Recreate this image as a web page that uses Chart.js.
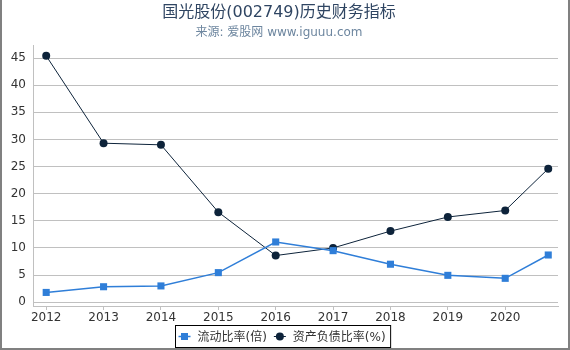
<!DOCTYPE html>
<html>
<head>
<meta charset="utf-8">
<script src="https://cdn.jsdelivr.net/npm/chart.js@4/dist/chart.umd.min.js"></script>
<style>
  body { margin: 0; background: #fff; }
  #wrap { position: relative; width: 570px; height: 350px; }
  #frame { position: absolute; inset: 0; box-sizing: border-box; border: 2px solid #808080; border-top: none; pointer-events: none; }
</style>
</head>
<body>
<div id="wrap">
  <canvas id="chart" width="570" height="350"></canvas>
  <div id="frame"></div>
</div>
<script>
const TITLE = "国光股份(002749)历史财务指标";
const SUBTITLE = "来源: 爱股网 www.iguuu.com";
const YEARS = [2012, 2013, 2014, 2015, 2016, 2017, 2018, 2019, 2020, 2020.75];
const CURRENT_RATIO = [1.8, 2.85, 3.0, 5.45, 11.1, 9.5, 7.0, 4.95, 4.4, 8.7];
const DEBT_RATIO = [45.4, 29.3, 29.0, 16.6, 8.6, 10.0, 13.1, 15.7, 16.9, 24.6];
const X_TICKS = [2012, 2013, 2014, 2015, 2016, 2017, 2018, 2019, 2020];
const Y_TICKS = [0, 5, 10, 15, 20, 25, 30, 35, 40, 45];
const SERIES_NAMES = ["流动比率(倍)", "资产负债比率(%)"];
const COLORS = ["#2f7ed8", "#0d233a"];

const FONT = "'DejaVu Sans', 'Noto Sans CJK SC', sans-serif";

function points(vals) {
  return YEARS.map((x, i) => ({ x, y: vals[i] }));
}

// legend with a black box, line + marker per series
const boxLegend = {
  id: "boxLegend",
  afterDraw(chart) {
    const ctx = chart.ctx;
    ctx.save();
    ctx.font = "12px " + FONT;
    const items = chart.data.datasets.map((ds) => ({ ds, w: ctx.measureText(ds.label).width }));
    const sym = 12, gap = 7, spacing = 7, padL = 3, padR = 5;
    const total = padL + padR + items.reduce((a, it) => a + sym + gap + it.w, 0) + spacing * (items.length - 1);
    const left = Math.round(283 - total / 2) + 0.5, top = 325.5, h = 22;
    ctx.strokeStyle = "#000";
    ctx.lineWidth = 1;
    ctx.strokeRect(left, top, total, h);
    let x = left + padL;
    const cy = top + h / 2;
    items.forEach(({ ds, w }) => {
      ctx.strokeStyle = ds.borderColor;
      ctx.lineWidth = ds.borderWidth;
      ctx.beginPath();
      ctx.moveTo(x, cy);
      ctx.lineTo(x + sym, cy);
      ctx.stroke();
      ctx.fillStyle = ds.pointBackgroundColor;
      if (ds.pointStyle === "rect") {
        ctx.fillRect(x + sym / 2 - 3.5, cy - 3.5, 7, 7);
      } else {
        ctx.beginPath();
        ctx.arc(x + sym / 2, cy, 4, 0, Math.PI * 2);
        ctx.fill();
      }
      ctx.fillStyle = "#333";
      ctx.textBaseline = "middle";
      ctx.fillText(ds.label, x + sym + gap, cy + 1);
      x += sym + gap + w + spacing;
    });
    ctx.restore();
  },
};

new Chart(document.getElementById("chart"), {
  type: "line",
  data: {
    datasets: [
      {
        label: SERIES_NAMES[0],
        data: points(CURRENT_RATIO),
        borderColor: COLORS[0],
        backgroundColor: COLORS[0],
        pointBackgroundColor: COLORS[0],
        pointBorderWidth: 0,
        borderWidth: 1.5,
        pointStyle: "rect",
        pointRadius: 5,
        tension: 0,
      },
      {
        label: SERIES_NAMES[1],
        data: points(DEBT_RATIO),
        borderColor: COLORS[1],
        backgroundColor: COLORS[1],
        pointBackgroundColor: COLORS[1],
        pointBorderWidth: 0,
        borderWidth: 1,
        pointStyle: "circle",
        pointRadius: 4,
        tension: 0,
      },
    ],
  },
  options: {
    responsive: false,
    animation: false,
    layout: { padding: { left: 0, right: 12, top: 0, bottom: 0 } },
    plugins: {
      legend: { display: false },
      tooltip: { enabled: false },
      title: {
        display: true,
        text: TITLE,
        color: "#2f4562",
        font: { family: FONT, size: 16, weight: "normal" },
        padding: { top: 3, bottom: 0 },
      },
      subtitle: {
        display: true,
        text: SUBTITLE,
        color: "#6d869f",
        font: { family: FONT, size: 12, weight: "normal" },
        padding: { top: 3.1, bottom: 5.3 },
      },
    },
    scales: {
      x: {
        type: "linear",
        min: 2011.77,
        max: 2020.92,
        afterBuildTicks: (s) => { s.ticks = X_TICKS.map((v) => ({ value: v })); },
        afterFit: (s) => { s.height = 44; },
        ticks: {
          callback: (v) => String(v),
          color: "#333",
          font: { family: FONT, size: 12 },
          padding: 1,
          maxRotation: 0,
          autoSkip: false,
        },
        grid: { drawOnChartArea: false, drawTicks: true, tickLength: 4, color: "#c0c0c0" },
        border: { color: "#c0c0c0" },
      },
      y: {
        min: -0.7,
        max: 47.4,
        afterBuildTicks: (s) => { s.ticks = Y_TICKS.map((v) => ({ value: v })); },
        afterFit: (s) => { s.width = 33; },
        ticks: {
          color: "#333",
          font: { family: FONT, size: 12 },
          padding: 7,
        },
        grid: { color: "#c0c0c0", drawTicks: false },
        border: { color: "#c0c0c0" },
      },
    },
  },
  plugins: [boxLegend],
});
</script>
</body>
</html>
